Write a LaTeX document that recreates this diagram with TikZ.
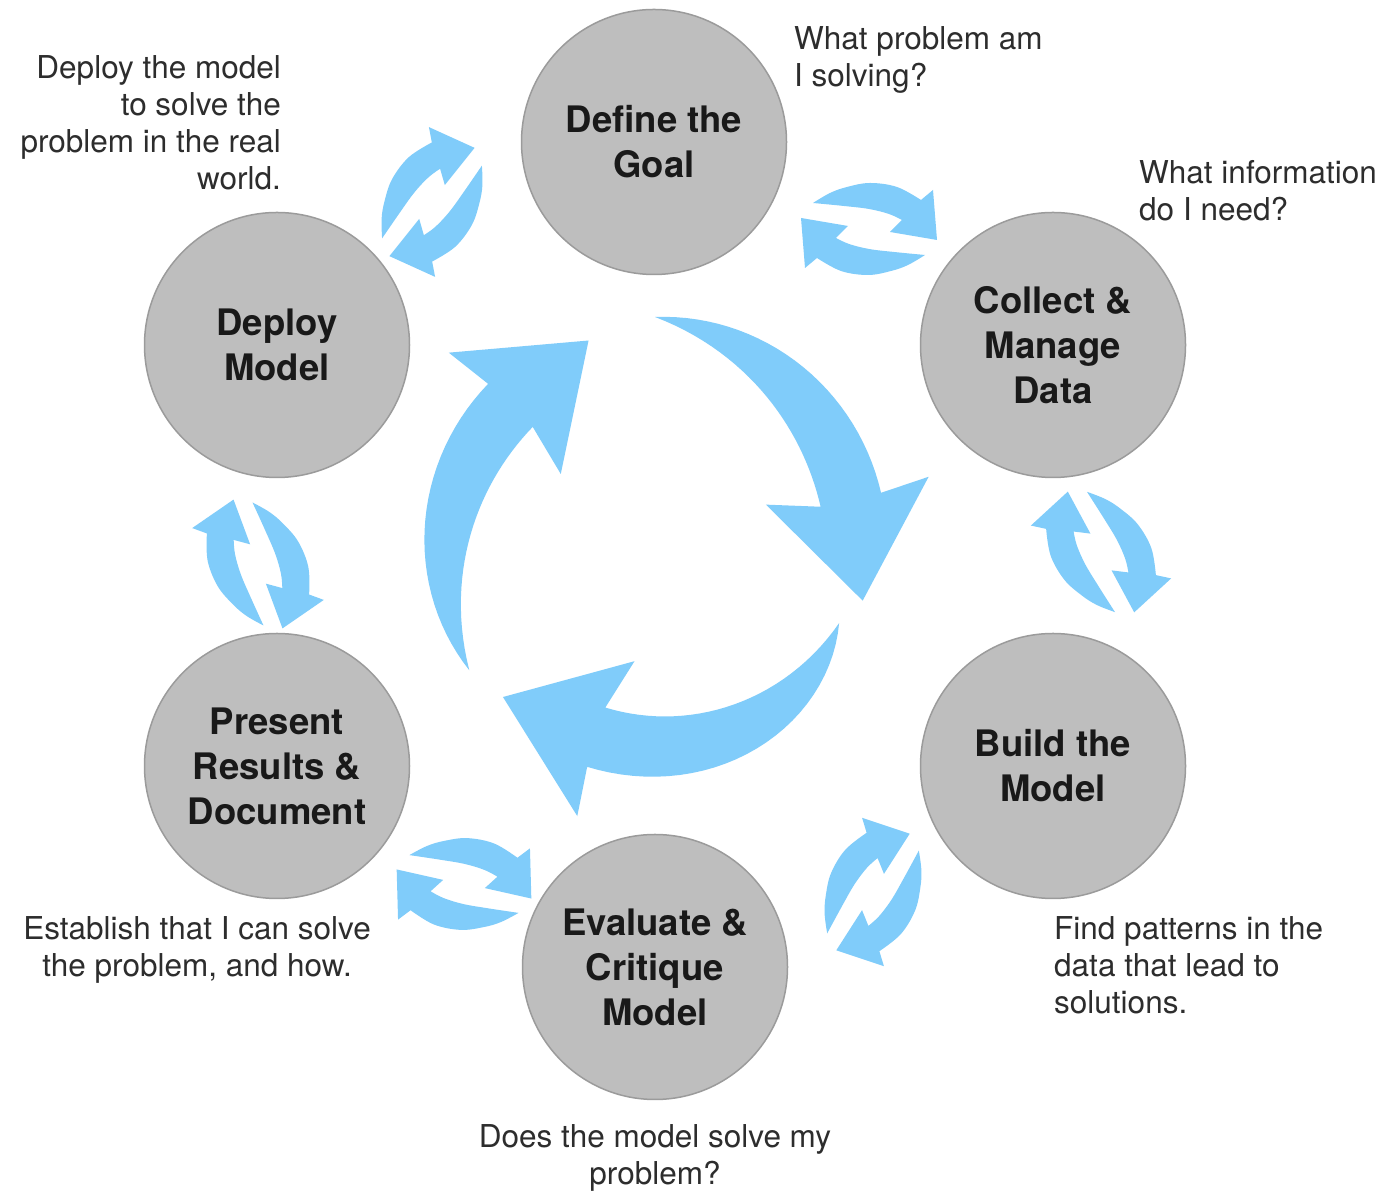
\documentclass[tikz,border=0pt]{standalone}
\usepackage{fontspec}
\setsansfont{TeX Gyre Heros}
\usepackage{xcolor}
\usepackage{tikz}
\usetikzlibrary{positioning}

\definecolor{flowblue}{RGB}{128,204,250}
\definecolor{stagegray}{RGB}{190,190,190}
\definecolor{stageedge}{RGB}{155,155,155}
\definecolor{notegray}{RGB}{45,45,45}

\begin{document}
\begin{tikzpicture}[
    x = 1pt,
    y = 1pt,
    font = \sffamily,
    stage/.style = {
      circle,
      draw=stageedge,
      fill=stagegray,
      line width=1.5pt,
      minimum size=265pt,
      inner sep=0pt,
      align=center,
      text=black!90,
      font=\sffamily\bfseries\fontsize{36.5}{45}\selectfont
    },
    note/.style = {
      inner sep=0pt,
      text=notegray,
      font=\sffamily\fontsize{31.5}{37}\selectfont
    },
    flow/.style = {
      fill=flowblue
    }
  ]
    \path[use as bounding box, fill=white] (0,0) rectangle (1386,1193);

    % the six stages
    \node[stage] (goal) at (654,1051) {Define the\\Goal};
    \node[stage] (data) at (1053,848) {Collect \&\\Manage\\Data};
    \node[stage] (build) at (1053,427) {Build the\\Model};
    \node[stage] (eval) at (655,226) {Evaluate \&\\Critique\\Model};
    \node[stage] (present) at (277,427) {Present\\Results \&\\Document};
    \node[stage] (deploy) at (277,848) {Deploy\\Model};

    % questions beside the stages
    \node[note, align=left, anchor=north west] (goalnote) at (794,1167) {What problem am\\I solving?};
    \node[note, align=left, anchor=north west] (datanote) at (1139,1033) {What information\\do I need?};
    \node[note, align=left, anchor=north west] (buildnote) at (1054,277) {Find patterns in the\\data that lead to\\solutions.};
    \node[note, align=center, below=24pt of eval] (evalnote) {Does the model solve my\\problem?};
    \node[note, align=center, anchor=north] (presentnote) at (197,277) {Establish that I can solve\\the problem, and how.};
    \node[note, align=right, anchor=north east] (deploynote) at (281,1138) {Deploy the model\\to solve the\\problem in the real\\world.};

    % big cycle in the middle
    \coordinate (hub) at (655,648);
    \foreach \tail/\neck/\tailr in {90/13/228, -23/-107/200, 214/136/224}
      \fill[flow, shift={(hub)}]
        (\tail:\tailr)
        -- plot[domain=\tail:\neck, samples=30] (\x:{232-(232-\tailr)*((\x-\neck)/(\tail-\neck))^3})
        -- ({\neck+1}:282) -- ({\neck-28}:215) -- ({\neck+7}:118) -- (\neck:170)
        -- plot[domain=\neck:\tail, samples=30] (\x:{170+(\tailr-170)*((\x-\neck)/(\tail-\neck))^2})
        -- cycle;

    % small loops between neighbouring stages
    \foreach \cx/\cy/\turn in {869/964/0, 1101/641/-52, 873/301/67, 464/309/-3, 258/629/-60, 432/991/61}
      \foreach \half in {0,180}
        \fill[flow, shift={(\cx,\cy)}, rotate=\turn+\half]
          plot[smooth, tension=0.6] coordinates {(-56,26) (-39,36) (-22,42) (1,46) (28,42) (52,29)}
          -- (64,39) -- (68,-11) -- (21,-3) -- (33,9)
          -- plot[smooth, tension=0.6] coordinates {(33,9) (20,15) (0,20) (-25,23) (-56,26)}
          -- cycle;
  \end{tikzpicture}
\end{document}
